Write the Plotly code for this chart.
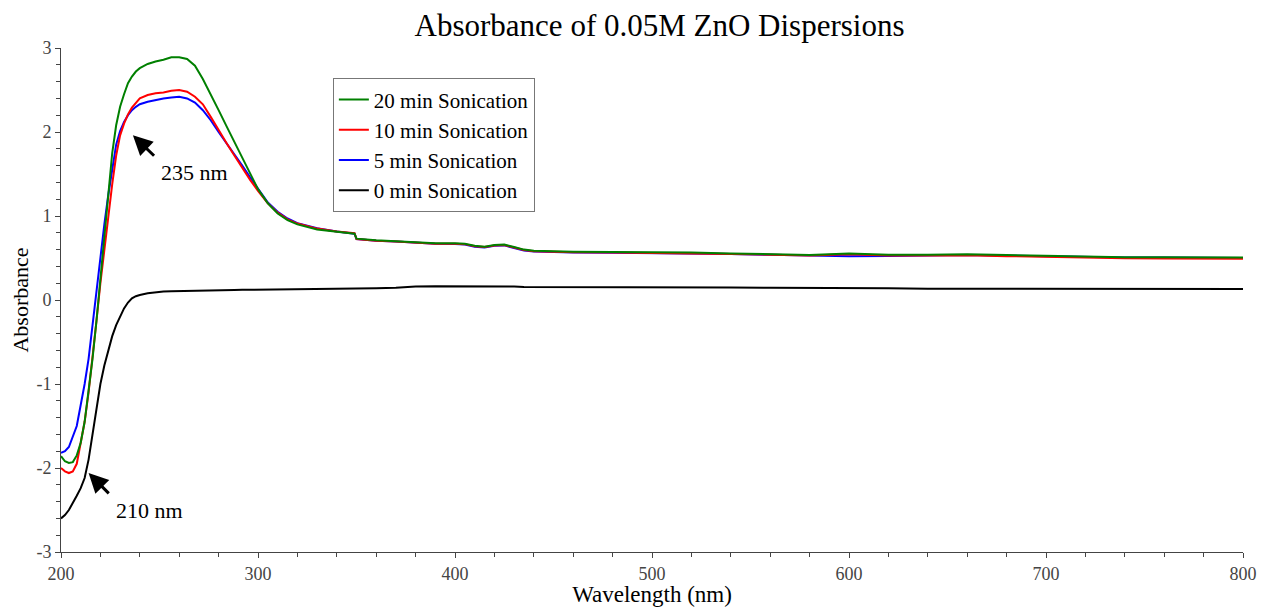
import plotly.graph_objects as go

wavelength = [200, 202, 204, 206, 208, 210, 212, 214, 216, 218, 220, 222, 224, 226, 228,
              230, 232, 234, 236, 238, 240, 244, 248, 252, 256, 260, 264, 268, 272, 276,
              280, 284, 288, 292, 296, 300, 305, 310, 315, 320, 330, 340, 349, 350, 360,
              370, 380, 390, 400, 405, 410, 415, 420, 425, 430, 435, 440, 450, 460, 480,
              500, 520, 540, 560, 580, 600, 620, 640, 660, 680, 700, 720, 740, 760, 780, 800]

son_20 = [-1.86, -1.92, -1.94, -1.93, -1.85, -1.70, -1.45, -1.10, -0.70, -0.25, 0.25, 0.80, 1.30, 1.75, 2.08,
          2.30, 2.45, 2.58, 2.66, 2.72, 2.76, 2.81, 2.84, 2.86, 2.89, 2.89, 2.87, 2.79, 2.63, 2.45,
          2.26, 2.07, 1.88, 1.68, 1.49, 1.32, 1.15, 1.03, 0.95, 0.90, 0.84, 0.81, 0.79, 0.73, 0.71,
          0.70, 0.685, 0.675, 0.675, 0.67, 0.645, 0.635, 0.655, 0.66, 0.63, 0.60, 0.585, 0.578, 0.575, 0.572,
          0.57, 0.565, 0.555, 0.545, 0.535, 0.555, 0.54, 0.54, 0.545, 0.535, 0.525, 0.515, 0.51, 0.51, 0.505, 0.505]

son_10 = [-2.00, -2.04, -2.06, -2.04, -1.95, -1.72, -1.45, -1.10, -0.70, -0.25, 0.20, 0.60, 1.00, 1.38, 1.72,
          1.96, 2.10, 2.21, 2.29, 2.35, 2.40, 2.44, 2.46, 2.47, 2.49, 2.50, 2.48, 2.42, 2.33, 2.18,
          2.02, 1.87, 1.72, 1.57, 1.43, 1.30, 1.15, 1.04, 0.96, 0.91, 0.85, 0.815, 0.795, 0.725, 0.705,
          0.695, 0.68, 0.67, 0.67, 0.665, 0.64, 0.63, 0.65, 0.655, 0.625, 0.595, 0.58, 0.572, 0.568, 0.565,
          0.562, 0.556, 0.548, 0.54, 0.53, 0.545, 0.53, 0.53, 0.532, 0.522, 0.512, 0.505, 0.498, 0.495, 0.49, 0.49]

son_5 = [-1.82, -1.80, -1.75, -1.62, -1.50, -1.25, -1.00, -0.70, -0.30, 0.15, 0.55, 0.90, 1.25, 1.58, 1.85,
         2.01, 2.12, 2.20, 2.26, 2.30, 2.33, 2.36, 2.38, 2.40, 2.41, 2.42, 2.40, 2.35, 2.26, 2.14,
         2.00, 1.87, 1.74, 1.60, 1.46, 1.33, 1.16, 1.05, 0.97, 0.915, 0.855, 0.815, 0.79, 0.725, 0.705,
         0.695, 0.68, 0.67, 0.668, 0.66, 0.635, 0.625, 0.645, 0.65, 0.62, 0.59, 0.578, 0.57, 0.566, 0.562,
         0.56, 0.555, 0.548, 0.538, 0.525, 0.52, 0.525, 0.528, 0.535, 0.528, 0.52, 0.51, 0.505, 0.505, 0.5, 0.5]

son_0 = [-2.60, -2.56, -2.50, -2.42, -2.33, -2.24, -2.12, -1.90, -1.60, -1.30, -1.00, -0.78, -0.60, -0.43, -0.30,
         -0.19, -0.10, -0.03, 0.02, 0.045, 0.06, 0.08, 0.092, 0.10, 0.104, 0.107, 0.109, 0.111, 0.113, 0.115,
         0.117, 0.119, 0.12, 0.121, 0.122, 0.124, 0.125, 0.126, 0.127, 0.128, 0.129, 0.13, 0.13, 0.135, 0.14,
         0.145, 0.16, 0.165, 0.165, 0.165, 0.165, 0.165, 0.165, 0.165, 0.16, 0.155, 0.155, 0.155, 0.155, 0.155,
         0.155, 0.155, 0.15, 0.145, 0.145, 0.145, 0.14, 0.135, 0.135, 0.135, 0.133, 0.133, 0.132, 0.132, 0.131, 0.131]

series_names = ["0 min Sonication", "5 min Sonication", "10 min Sonication", "20 min Sonication"]
series_values = [son_0, son_5, son_10, son_20]
series_colors = ["#000000", "#0000ff", "#ff0000", "#008000"]

y_tick_vals = [-3, -2, -1, 0, 1, 2, 3]
y_tick_text = ["-3", "-2", "-1", "0", "1", "2", "3"]
x_tick_vals = [200, 300, 400, 500, 600, 700, 800]

SERIF = "Liberation Serif"

fig = go.Figure()
for name, vals, col in zip(series_names, series_values, series_colors):
    fig.add_trace(go.Scatter(x=wavelength, y=vals, mode="lines", name=name,
                             line=dict(color=col, width=2)))

# the page body adds an 8 px offset, so the figure is 8 px smaller on each side
fig.update_layout(
    width=1259, height=599,
    paper_bgcolor="white", plot_bgcolor="white",
    margin=dict(l=53, r=24, t=40, b=55, autoexpand=False),
    title=dict(text="Absorbance of 0.05M ZnO Dispersions", x=0.5175, xanchor="center",
               y=0.971, yanchor="middle", font=dict(family=SERIF, size=31, color="black")),
    showlegend=True,
    legend=dict(x=0.230, y=0.94, xanchor="left", yanchor="top", traceorder="reversed",
                bgcolor="white", bordercolor="#777777", borderwidth=1,
                font=dict(family=SERIF, size=21, color="black"),
                itemwidth=30, tracegroupgap=0),
    font=dict(family=SERIF),
)

fig.update_xaxes(range=[200, 800], tickvals=x_tick_vals, ticks="outside", ticklen=5,
                 tickcolor="#444", showline=True, linecolor="#444", linewidth=1,
                 showgrid=False, zeroline=False, automargin=False,
                 tickfont=dict(family=SERIF, size=18, color="#444"),
                 minor=dict(dtick=20, ticks="outside", ticklen=4, tickcolor="#444", showgrid=False),
                 title=dict(text="Wavelength (nm)", font=dict(family=SERIF, size=23, color="black"), standoff=2))
fig.update_yaxes(range=[-3, 3], tickvals=y_tick_vals, ticktext=y_tick_text, ticks="outside", ticklen=5,
                 tickcolor="#444", showline=True, linecolor="#444", linewidth=1,
                 showgrid=False, zeroline=False, automargin=False,
                 tickfont=dict(family=SERIF, size=18, color="#444"),
                 minor=dict(dtick=0.2, ticks="outside", ticklen=4, tickcolor="#444", showgrid=False),
                 title=dict(text="Absorbance", font=dict(family=SERIF, size=22, color="black"), standoff=6))

# arrows
fig.add_annotation(x=236.5, y=1.96, ax=248, ay=1.70, xref="x", yref="y", axref="x", ayref="y",
                   text="", showarrow=True, arrowhead=2, arrowsize=1.3, arrowwidth=3, arrowcolor="black")
fig.add_annotation(x=268, y=1.52, xref="x", yref="y", text="235 nm", showarrow=False,
                   font=dict(family=SERIF, size=22, color="black"))
fig.add_annotation(x=214, y=-2.06, ax=225, ay=-2.32, xref="x", yref="y", axref="x", ayref="y",
                   text="", showarrow=True, arrowhead=2, arrowsize=1.3, arrowwidth=3, arrowcolor="black")
fig.add_annotation(x=245, y=-2.5, xref="x", yref="y", text="210 nm", showarrow=False,
                   font=dict(family=SERIF, size=22, color="black"))

fig.write_html("out.html")
